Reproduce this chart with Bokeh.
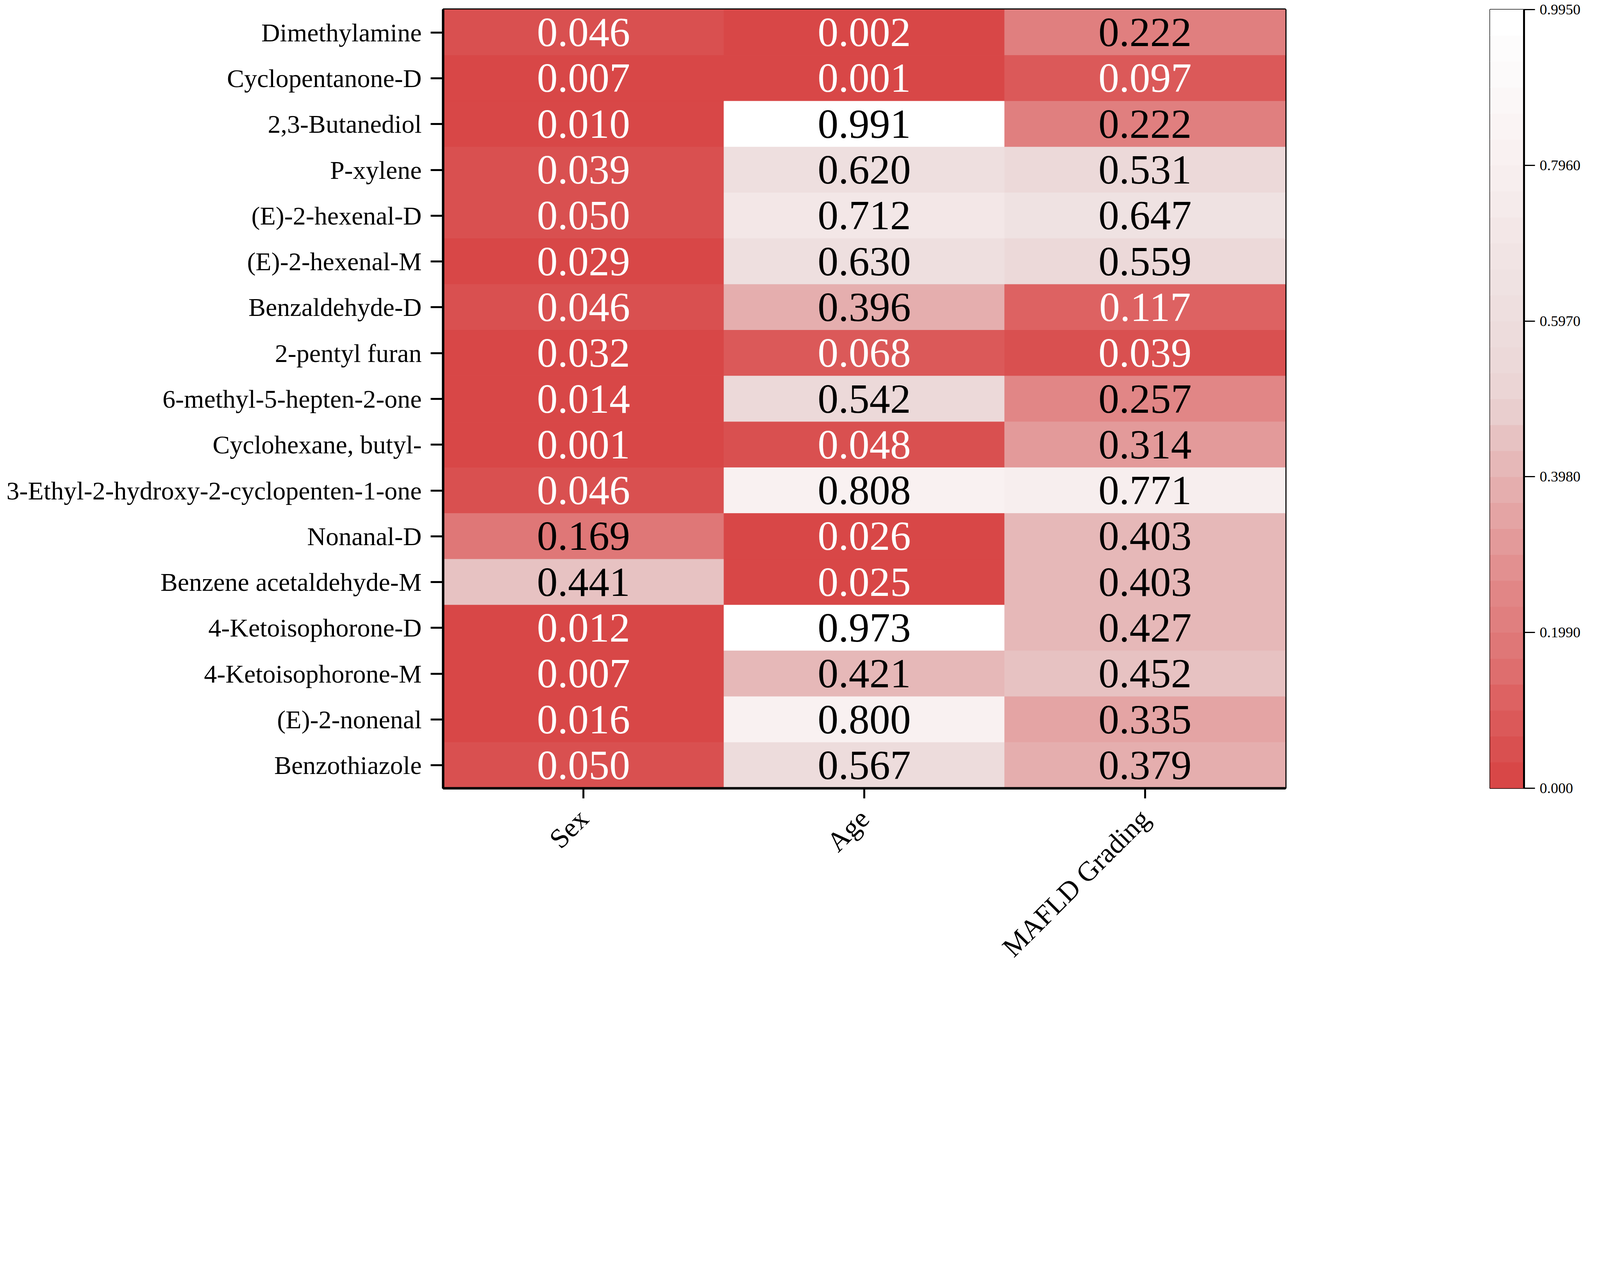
import math
from bokeh.plotting import figure
from bokeh.models import (ColumnDataSource, FactorRange, Range1d, LinearColorMapper,
                          FixedTicker, CustomJSTickFormatter)
from bokeh.layouts import row
from bokeh.core.properties import value
from bokeh.embed import file_html
from bokeh.resources import INLINE

# ---------------- data ----------------
compounds = ["Dimethylamine", "Cyclopentanone-D", "2,3-Butanediol", "P-xylene",
             "(E)-2-hexenal-D", "(E)-2-hexenal-M", "Benzaldehyde-D", "2-pentyl furan",
             "6-methyl-5-hepten-2-one", "Cyclohexane, butyl-",
             "3-Ethyl-2-hydroxy-2-cyclopenten-1-one", "Nonanal-D",
             "Benzene acetaldehyde-M", "4-Ketoisophorone-D", "4-Ketoisophorone-M",
             "(E)-2-nonenal", "Benzothiazole"]
factors = ["Sex", "Age", "MAFLD Grading"]
sex = [0.046, 0.007, 0.010, 0.039, 0.050, 0.029, 0.046, 0.032, 0.014, 0.001,
       0.046, 0.169, 0.441, 0.012, 0.007, 0.016, 0.050]
age = [0.002, 0.001, 0.991, 0.620, 0.712, 0.630, 0.396, 0.068, 0.542, 0.048,
       0.808, 0.026, 0.025, 0.973, 0.421, 0.800, 0.567]
mafld = [0.222, 0.097, 0.222, 0.531, 0.647, 0.559, 0.117, 0.039, 0.257, 0.314,
         0.771, 0.403, 0.403, 0.427, 0.452, 0.335, 0.379]
cbar_ticks = [0.0, 0.199, 0.398, 0.597, 0.796, 0.995]
cbar_low, cbar_high = 0.0, 0.995

# ---------------- sizing (the page is shown with ~1.3x zoom) ----------------
S = 1 / 1.3


def px(v):
    return int(round(v * S))


# ---------------- colour palette (stepped, red -> white) ----------------
anchors = [(0.00, (215, 66, 66)), (0.05, (217, 80, 80)), (0.10, (220, 93, 93)),
           (0.15, (222, 110, 110)), (0.20, (224, 124, 124)), (0.25, (225, 134, 134)),
           (0.30, (226, 150, 150)), (0.35, (228, 164, 164)), (0.40, (229, 180, 180)),
           (0.45, (231, 195, 195)), (0.50, (235, 212, 212)), (0.60, (237, 222, 222)),
           (0.70, (242, 230, 230)), (0.80, (248, 240, 240)), (0.90, (252, 249, 249)),
           (0.995, (255, 255, 255))]


def interp(v):
    for (a, ca), (b, cb_) in zip(anchors[:-1], anchors[1:]):
        if a <= v <= b:
            t = (v - a) / (b - a)
            return tuple(int(round(ca[k] + t * (cb_[k] - ca[k]))) for k in range(3))
    return anchors[-1][1]


NSTEP = 30
step = (cbar_high - cbar_low) / NSTEP
palette = ["#%02x%02x%02x" % interp(cbar_low + (i + 0.5) * step) for i in range(NSTEP)]
palette[-1] = "#ffffff"
mapper = LinearColorMapper(palette=palette, low=cbar_low, high=cbar_high)

# ---------------- heatmap ----------------
xs, ys, vals, labels, tcolors = [], [], [], [], []
for col, series in zip(factors, [sex, age, mafld]):
    for name, v in zip(compounds, series):
        xs.append(col)
        ys.append(name)
        vals.append(v)
        labels.append("%.3f" % v)
        tcolors.append("white" if v < 0.15 else "black")
src = ColumnDataSource(dict(x=xs, y=ys, v=vals, label=labels, tc=tcolors))

FONT = "Liberation Serif"
TOTAL_W = px(5313) - 16
TOTAL_H = px(3265) - 16
TOP = px(41 - 10.4)
FRAME_H = px(2592)
BOTTOM = TOTAL_H - TOP - FRAME_H

W1 = px(4600 - 10.4)
LEFT1 = px(1485 - 10.4)
FRAME_W1 = px(2803)
RIGHT1 = W1 - LEFT1 - FRAME_W1

p = figure(width=W1, height=TOTAL_H, output_backend="svg", toolbar_location=None,
           x_range=FactorRange(factors=factors),
           y_range=FactorRange(factors=list(reversed(compounds))),
           min_border_left=LEFT1, min_border_right=RIGHT1,
           min_border_top=TOP, min_border_bottom=BOTTOM)
p.rect(x="x", y="y", width=1, height=1, source=src,
       fill_color={"field": "v", "transform": mapper},
       line_color={"field": "v", "transform": mapper}, line_width=1)
p.text(x="x", y="y", text="label", source=src, text_color="tc",
       text_align="center", text_baseline="middle",
       text_font=value(FONT), text_font_size="%dpx" % px(138))

p.grid.visible = False
p.outline_line_color = "black"
p.outline_line_width = 6
p.background_fill_color = "white"
p.border_fill_color = "white"

for ax in (p.xaxis[0], p.yaxis[0]):
    ax.axis_line_color = "black"
    ax.axis_line_width = 6
    ax.major_tick_line_color = "black"
    ax.major_tick_line_width = 5
    ax.major_tick_in = 0
    ax.minor_tick_line_color = None
    ax.major_label_text_font = FONT
    ax.major_label_text_color = "black"

p.yaxis.major_tick_out = px(41)
p.yaxis.major_label_standoff = px(30)
p.yaxis.major_label_text_font_size = "%dpx" % px(86)

p.xaxis.major_tick_out = px(34)
p.xaxis.major_label_standoff = 40
p.xaxis.major_label_text_font_size = "71px"
p.xaxis.major_label_orientation = math.pi / 4

# ---------------- colour bar (as its own small figure) ----------------
W2 = TOTAL_W - W1
LEFT2 = px(4969 - 4600)
FRAME_W2 = px(113)
RIGHT2 = W2 - LEFT2 - FRAME_W2

cb_src = ColumnDataSource(dict(
    x=[0.5] * NSTEP,
    y=[cbar_low + (i + 0.5) * step for i in range(NSTEP)],
    c=palette))
cb = figure(width=W2, height=TOTAL_H, output_backend="svg", toolbar_location=None,
            x_range=Range1d(0, 1), y_range=Range1d(cbar_low, cbar_high),
            x_axis_location=None, y_axis_location="right",
            min_border_left=LEFT2, min_border_right=RIGHT2,
            min_border_top=TOP, min_border_bottom=BOTTOM)
cb.rect(x="x", y="y", width=1, height=step, source=cb_src,
        fill_color="c", line_color="c", line_width=1)
cb.grid.visible = False
cb.outline_line_color = "black"
cb.outline_line_width = 3
cb.border_fill_color = "white"
ya = cb.yaxis[0]
ya.ticker = FixedTicker(ticks=cbar_ticks)
ya.formatter = CustomJSTickFormatter(
    code="return tick == 0 ? '0.000' : tick.toFixed(4);")
ya.axis_line_color = "black"
ya.axis_line_width = 5
ya.major_tick_line_color = "black"
ya.major_tick_line_width = 3
ya.major_tick_in = 0
ya.major_tick_out = px(37)
ya.minor_tick_line_color = None
ya.major_label_standoff = px(15)
ya.major_label_text_font = FONT
ya.major_label_text_font_size = "%dpx" % px(50)
ya.major_label_text_color = "black"

layout = row(p, cb)
open("out.html", "w").write(file_html(layout, INLINE))
